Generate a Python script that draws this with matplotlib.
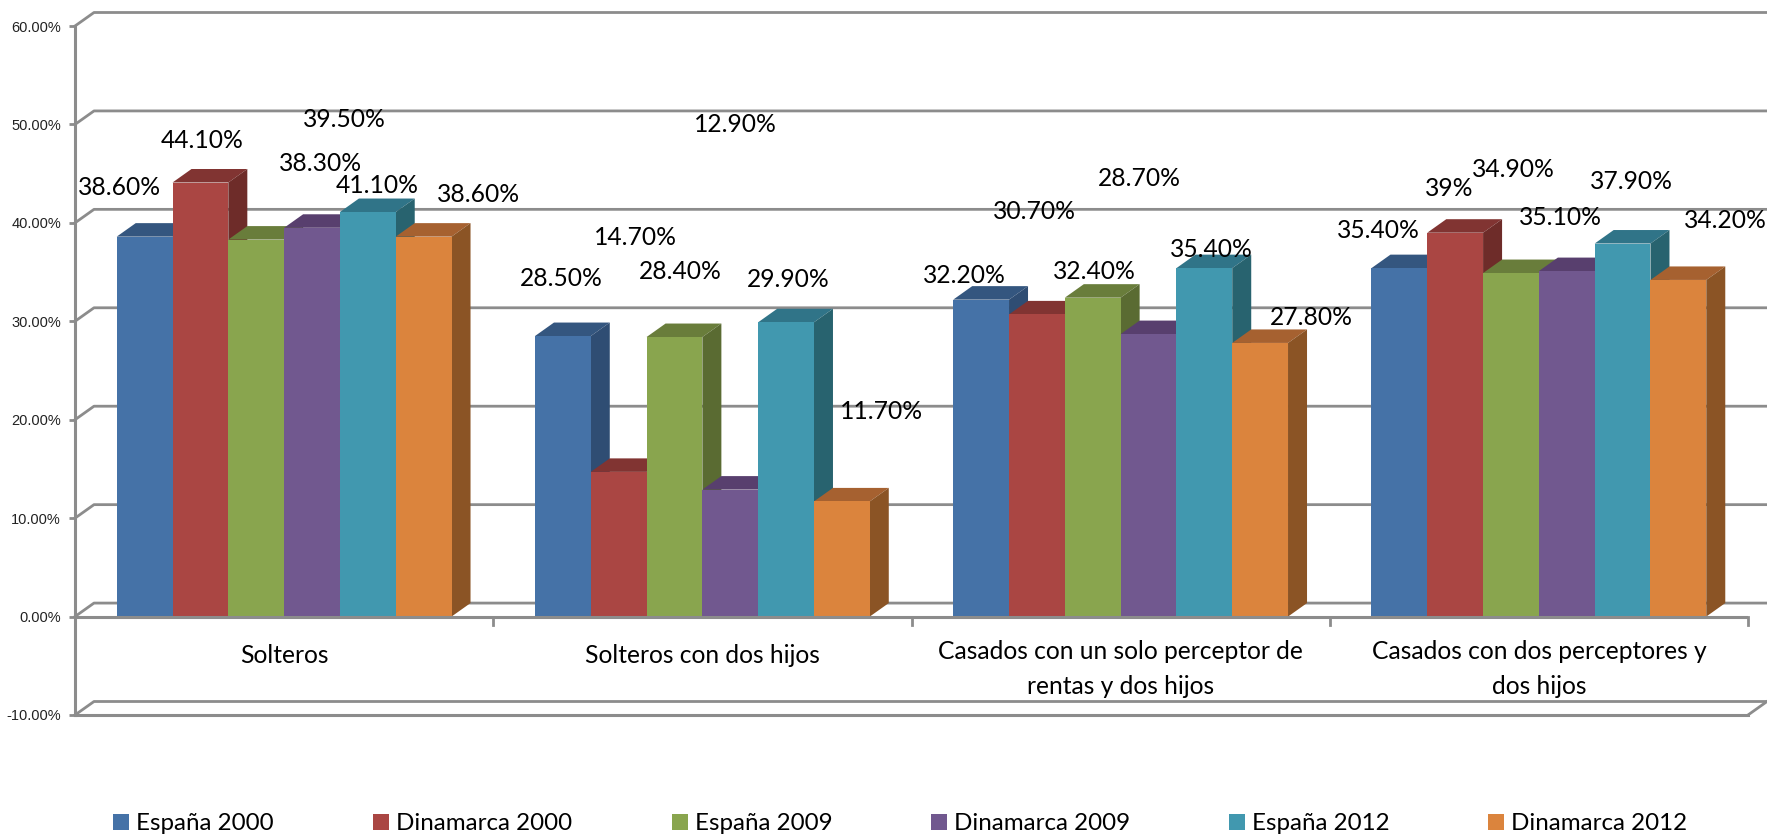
import matplotlib
matplotlib.use('Agg')
from matplotlib import pyplot as plt
from matplotlib.patches import Rectangle

# datos
categorias = ['Solteros', 'Solteros con dos hijos',
              'Casados con un solo perceptor de\nrentas y dos hijos',
              'Casados con dos perceptores y\ndos hijos']
series = ['España 2000', 'Dinamarca 2000', 'España 2009',
          'Dinamarca 2009', 'España 2012', 'Dinamarca 2012']
espana_2000 = [38.6, 28.5, 32.2, 35.4]
dinamarca_2000 = [44.1, 14.7, 30.7, 39.0]
espana_2009 = [38.3, 28.4, 32.4, 34.9]
dinamarca_2009 = [39.5, 12.9, 28.7, 35.1]
espana_2012 = [41.1, 29.9, 35.4, 37.9]
dinamarca_2012 = [38.6, 11.7, 27.8, 34.2]
valores = [espana_2000, dinamarca_2000, espana_2009,
           dinamarca_2009, espana_2012, dinamarca_2012]
etiquetas = [['38.60%', '28.50%', '32.20%', '35.40%'],
             ['44.10%', '14.70%', '30.70%', '39%'],
             ['38.30%', '28.40%', '32.40%', '34.90%'],
             ['39.50%', '12.90%', '28.70%', '35.10%'],
             ['41.10%', '29.90%', '35.40%', '37.90%'],
             ['38.60%', '11.70%', '27.80%', '34.20%']]

# estilo
frente = ['#4572A7', '#AA4643', '#89A54E', '#71588F', '#4198AF', '#DB843D']
arriba = ['#34567F', '#813432', '#697D3B', '#583F6E', '#307488', '#A66130']
lado = ['#2F4D73', '#6E2C29', '#5A6B32', '#4B3860', '#28636F', '#8B5425']
GRIS = '#8C8C8C'
FUENTE = 'Lato'

W, H = 1767, 836
X0, X1 = 75, 1748
Y0, YTOP = 715, 26
DX_PX, DY_PX = 19, 13.5
BAR_PX = 55.8

# desplazamiento de cada etiqueta respecto al centro de la barra, en pixeles
offset_x = [[-25, -2, -17, -21], [2, 17, -2, -6], [64, 6, 2, 2],
            [32, 5, -9, -6], [9, 2, 7, 9], [55, 40, 51, 47]]
offset_y = [[49, 58, 24, 38], [42, 234, 103, 44], [76, 66, 26, 104],
            [108, 365, 156, 54], [27, 43, 19, 62], [42, 90, 25, 59]]
# posicion izquierda de cada cuadro de la leyenda
leyenda_x = [113, 373, 672, 931, 1229, 1488]
# distancia de cada categoria al eje
cat_offset = [-27, -27, -23, -23]

fig = plt.figure(figsize=(W / 100, H / 100), dpi=100)
ax = fig.add_axes([X0 / W, 1 - Y0 / H, (X1 - X0) / W, (Y0 - YTOP) / H])
ax.set_xlim(0, 4)
ax.set_ylim(-10, 60)
ax.patch.set_visible(False)

px_x = 4 / (X1 - X0)
px_y = 70 / (Y0 - YTOP)
dx, dy = DX_PX * px_x, DY_PX * px_y
ancho = BAR_PX * px_x

# paredes y rejilla
niveles = [-10, 0, 10, 20, 30, 40, 50, 60]
for n in niveles:
    ax.plot([0, dx, 4 + dx], [n, n + dy, n + dy], color=GRIS, lw=2, clip_on=False, zorder=1)
ax.plot([4, 4 + dx], [-10, -10 + dy], color=GRIS, lw=2, clip_on=False, zorder=1)
ax.plot([0, 4], [-10, -10], color=GRIS, lw=2.2, clip_on=False, zorder=1)

# barras
zo = 3
for s in range(6):
    pos = [c + 0.5 + (s - 2.5) * ancho for c in range(4)]
    for x, v in zip(pos, valores[s]):
        i, d = x - ancho / 2, x + ancho / 2
        ax.fill([i, i + dx, d + dx, d], [v, v + dy, v + dy, v], color=arriba[s], lw=0, zorder=zo, clip_on=False)
        ax.fill([d, d + dx, d + dx, d], [0, dy, v + dy, v], color=lado[s], lw=0, zorder=zo, clip_on=False)
    ax.bar(pos, valores[s], width=ancho, color=frente[s], zorder=zo + 1)
    zo += 2

# linea del cero y marcas
ax.plot([0, 4], [0, 0], color=GRIS, lw=2.2, zorder=20)
for c in range(1, 5):
    ax.plot([c, c], [0, -8 * px_y], color=GRIS, lw=2, zorder=20, clip_on=False)

for s in range(6):
    for c in range(4):
        x = c + 0.5 + (s - 2.5) * ancho
        ax.annotate(etiquetas[s][c], (x, valores[s][c]),
                    xytext=(offset_x[s][c], offset_y[s][c]), textcoords='offset pixels',
                    ha='center', va='center', fontsize=17.7, family=FUENTE,
                    color='black', zorder=30, annotation_clip=False)

for c, nombre in enumerate(categorias):
    ax.annotate(nombre, (c + 0.5, 0), xytext=(0, cat_offset[c]), textcoords='offset pixels',
                ha='center', va='top', fontsize=17.7, family=FUENTE, linespacing=1.65,
                color='black', zorder=30)

# ejes
for k in ['top', 'right', 'bottom']:
    ax.spines[k].set_visible(False)
ax.spines['left'].set_color(GRIS)
ax.spines['left'].set_linewidth(2.2)
ax.set_xticks([])
ax.set_yticks(niveles)
ax.set_yticklabels(['%.2f%%' % n for n in niveles], fontsize=10.5, family='Liberation Sans', color='#222222')
ax.tick_params(axis='y', length=4, width=2, color=GRIS, pad=6)

# leyenda
for s in range(6):
    h = Rectangle((0, 0), 1, 1, color=frente[s], lw=0)
    fig.legend([h], [series[s]], loc='center left',
               bbox_to_anchor=(leyenda_x[s] / W, 1 - 824 / H), frameon=False,
               handlelength=0.67, handleheight=0.67, handletextpad=0.27, borderpad=0,
               borderaxespad=0, prop={'family': FUENTE, 'size': 17.4})

fig.savefig('out.png', dpi=100, facecolor='white')
